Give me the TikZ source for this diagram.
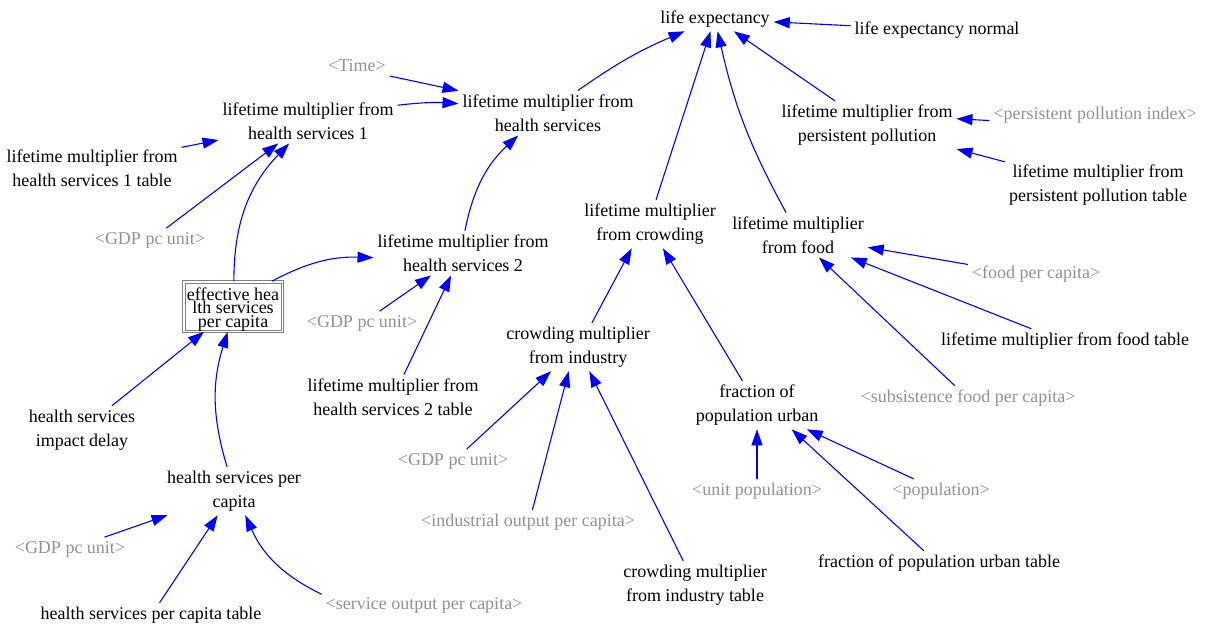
\documentclass[tikz,border=0pt]{standalone}
\usepackage{fontspec}
\setmainfont{Liberation Serif}
\usetikzlibrary{arrows.meta}
\definecolor{linkblue}{RGB}{0,0,255}
\definecolor{shadowgray}{RGB}{145,145,145}
\definecolor{boxgray}{RGB}{128,128,128}
\begin{document}
\begin{tikzpicture}[x=1pt,y=-1pt,
  var/.style={inner sep=2pt, outer sep=2pt, align=center, font=\fontsize{18}{24}\selectfont},
  shadow/.style={var, text=shadowgray},
  stockbox/.style={draw=boxgray, double=white, line width=1pt, double distance=1.5pt,
    minimum width=98.5pt, minimum height=49.5pt, inner sep=0pt, align=center,
    font=\fontsize{18}{13.5}\selectfont},
  link/.style={draw=linkblue, line width=1.1pt, -{Triangle[length=16pt,width=11pt]}},
  ]
\useasboundingbox (0,0) rectangle (1210,627);

% life expectancy sector
\node[var] (LE) at (715,19) {life expectancy};
\node[var] (LEN) at (937,30) {life expectancy normal};

% health services chain
\node[shadow] (TIME) at (357,66) {<Time>};
\node[var] (LM1) at (308,121) {lifetime multiplier from\\health services 1};
\node[var] (LMHS) at (548,113) {lifetime multiplier from\\health services};
\node[var] (LM1T) at (92,168) {lifetime multiplier from\\health services 1 table};
\node[shadow] (GDP1) at (150,240) {<GDP pc unit>};
\node[var] (LM2) at (463,253) {lifetime multiplier from\\health services 2};
\node[stockbox] (EHS) at (233,306.5) {\rule{0pt}{18pt}effective hea\\lth services\\per capita};
\node[shadow] (GDP2) at (362,323) {<GDP pc unit>};
\node[var] (LM2T) at (393,397) {lifetime multiplier from\\health services 2 table};
\node[var] (HSID) at (82,430) {health services\\impact delay};
\node[var] (HSPC) at (234,491) {health services per\\capita};
\node[shadow] (GDP3) at (70,549) {<GDP pc unit>};
\node[var] (HSPCT) at (151,615) {health services per capita table};
\node[shadow] (SOPC) at (424,605) {<service output per capita>};

% crowding chain
\node[var] (LMC) at (650,224) {lifetime multiplier\\from crowding};
\node[var] (CMI) at (578,347) {crowding multiplier\\from industry};
\node[shadow] (GDP4) at (453,461) {<GDP pc unit>};
\node[shadow] (IOPC) at (528,522) {<industrial output per capita>};
\node[var] (CMIT) at (695,585) {crowding multiplier\\from industry table};
\node[var] (FPU) at (757,405) {fraction of\\population urban};
\node[shadow] (UP) at (757,491) {<unit population>};
\node[shadow] (POP) at (941,491) {<population>};
\node[var] (FPUT) at (939,563) {fraction of population urban table};

% food chain
\node[var] (LMF) at (798,235) {lifetime multiplier\\from food};
\node[shadow] (FPC) at (1036,274) {<food per capita>};
\node[var] (LMFT) at (1065,341) {lifetime multiplier from food table};
\node[shadow] (SFPC) at (968,398) {<subsistence food per capita>};

% pollution chain
\node[var] (LMPP) at (867,125) {lifetime multiplier from\\persistent pollution};
\node[shadow] (PPI) at (1095,115) {<persistent pollution index>};
\node[var] (LMPPT) at (1098,185) {lifetime multiplier from\\persistent pollution table};

% links into life expectancy
\draw[link] (LEN) -- (LE);
\draw[link] (LMHS.37) to[bend left=6] (LE.202);
\draw[link] (LMC.76) -- (LE.250);
\draw[link] (LMF.118) to[bend left=8] (LE.282);
\draw[link] (LMPP.143) -- (LE.327);

% pollution links
\draw[link] (PPI.183) -- (LMPP.4);
\draw[link] (LMPPT.166) -- (LMPP.345);

% food links
\draw[link] (FPC.172) -- (LMF.350);
\draw[link] (LMFT.160) -- (LMF.337);
\draw[link] (SFPC.137) -- (LMF.313);

% crowding links
\draw[link] (CMI.60) -- (LMC.233);
\draw[link] (FPU.121) -- (LMC.298);
\draw[link] (GDP4.41) -- (CMI.222);
\draw[link] (IOPC.70) -- (CMI.249);
\draw[link] (CMIT.116) -- (CMI.295);
\draw[link] (UP) -- (FPU);
\draw[link] (POP.156) -- (FPU.334);
\draw[link] (FPUT.141) -- (FPU.325);

% health services links
\draw[link] (TIME.343) -- (LMHS.166);
\draw[link] (LM1.10) to[bend left=5] (LMHS.174);
\draw[link] (LM2.85) to[bend left=18] (LMHS.217);
\draw[link] (LM1T.13) -- (LM1.192);
\draw[link] (GDP1.36) -- (LM1.217);
\draw[link] (EHS.88) to[bend left=22] (LM1.230);
\draw[link] (EHS.33) to[bend left=15] (LM2.183);
\draw[link] (GDP2.34) -- (LM2.215);
\draw[link] (LM2T.64) -- (LM2.242);
\draw[link] (HSID.39) -- (EHS.221);
\draw[link] (HSPC.106) to[bend left=17] (EHS.258);
\draw[link] (GDP3.19) -- (HSPC.200);
\draw[link] (HSPCT.55) -- (HSPC.236);
\draw[link] (SOPC.174) to[bend left=20] (HSPC.295);
\end{tikzpicture}
\end{document}
